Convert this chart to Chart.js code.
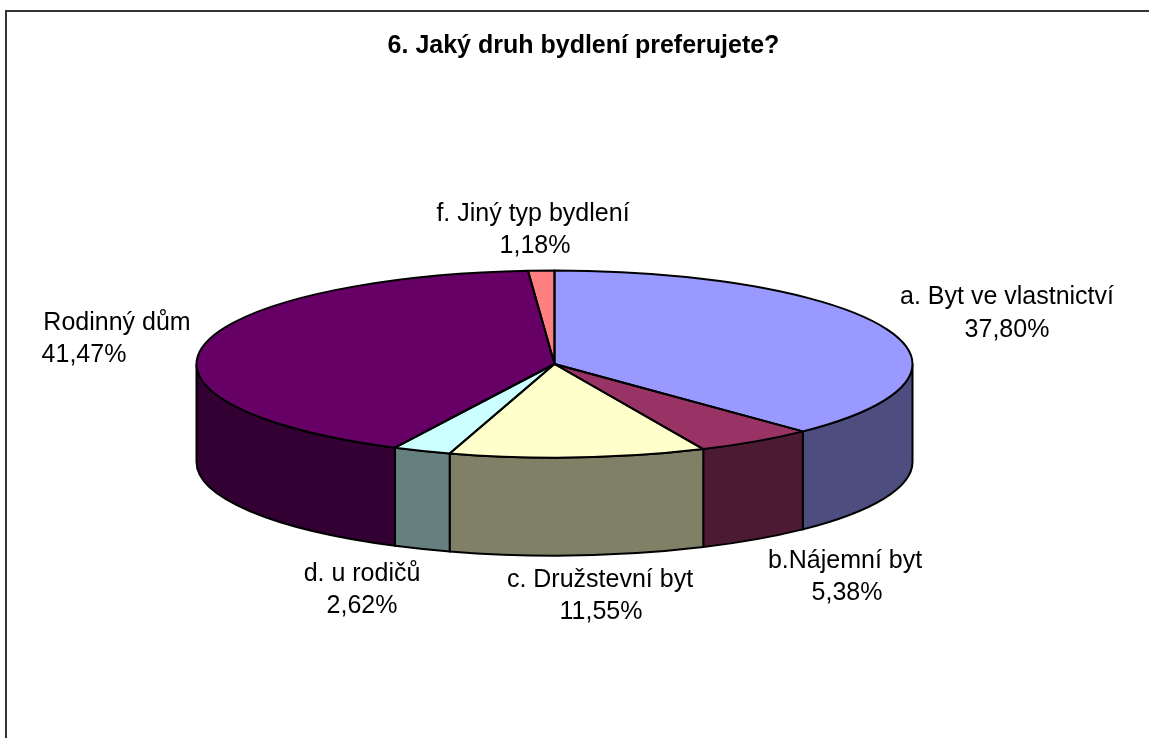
<!DOCTYPE html>
<html lang="cs">
<head>
<meta charset="utf-8">
<title>6. Jaký druh bydlení preferujete?</title>
<script src="https://cdn.jsdelivr.net/npm/chart.js@4/dist/chart.umd.min.js"></script>
<style>
  html, body { margin: 0; padding: 0; background: #fff; overflow: hidden; }
  #wrap { position: relative; width: 1149px; height: 738px; }
</style>
</head>
<body>
<div id="wrap"><canvas id="chart"></canvas></div>
<script>
  // Data
  const chartTitle = '6. Jaký druh bydlení preferujete?';
  const categories = ['a. Byt ve vlastnictví', 'b.Nájemní byt', 'c. Družstevní byt', 'd. u rodičů', 'Rodinný dům', 'f. Jiný typ bydlení'];
  const shares = [37.80, 5.38, 11.55, 2.62, 41.47, 1.18];

  // Slice colours, the side wall uses the same colour at half brightness
  const sliceColors = ['#9999ff', '#993366', '#ffffcc', '#ccffff', '#660066', '#ff8080'];

  // Ellipse the flat pie is squashed into
  const PIE = { cx: 554.5, cy: 364, rx: 358, ry: 93.5, depth: 98 };
  const FONT_SIZE = 25;
  const FONT_FAMILY = '"Liberation Sans", Arial, sans-serif';

  // Where each label line is centred: [x of name, x of share, y of name, y of share]
  const labelSpots = [
    [1007, 1007, 297, 330],
    [845, 847, 561, 593],
    [600, 601, 580, 612],
    [362, 362, 574, 606],
    [117, 84, 323, 355],
    [533, 535, 214, 246]
  ];

  function halfShade(hex) {
    const n = parseInt(hex.slice(1), 16);
    const ch = s => Math.round(((n >> s) & 255) / 2);
    return `rgb(${ch(16)}, ${ch(8)}, ${ch(0)})`;
  }

  function fmtShare(v) {
    return v.toFixed(2).replace('.', ',') + '%';
  }

  const pie3d = {
    id: 'pie3d',
    beforeDraw(chart) {
      // Frame of the chart, only top and left are in the picture
      const { ctx, width, height } = chart;
      ctx.save();
      ctx.strokeStyle = '#333';
      ctx.lineWidth = 2;
      ctx.beginPath();
      ctx.moveTo(width, 11);
      ctx.lineTo(6, 11);
      ctx.lineTo(6, height);
      ctx.stroke();
      ctx.restore();
    },
    beforeDatasetsDraw(chart) {
      const { ctx } = chart;
      const arcs = chart.getDatasetMeta(0).data;

      // Side walls, only the part facing the viewer
      ctx.save();
      ctx.strokeStyle = '#000';
      ctx.lineWidth = 2;
      arcs.forEach((arc, i) => {
        const a1 = Math.max(arc.startAngle, 0);
        const a2 = Math.min(arc.endAngle, Math.PI);
        if (a2 <= a1) return;
        ctx.beginPath();
        ctx.ellipse(PIE.cx, PIE.cy, PIE.rx, PIE.ry, 0, a1, a2);
        ctx.ellipse(PIE.cx, PIE.cy + PIE.depth, PIE.rx, PIE.ry, 0, a2, a1, true);
        ctx.closePath();
        ctx.fillStyle = halfShade(sliceColors[i]);
        ctx.fill();
        ctx.stroke();
      });
      ctx.restore();

      // Chart.js draws the round slices, squashed here to the ellipse
      ctx.save();
      ctx.translate(PIE.cx, PIE.cy);
      ctx.scale(1, PIE.ry / PIE.rx);
      ctx.translate(-arcs[0].x, -arcs[0].y);
    },
    afterDatasetsDraw(chart) {
      const { ctx } = chart;
      const arcs = chart.getDatasetMeta(0).data;
      ctx.restore();

      // Outlines are drawn unsquashed to keep an even line width
      ctx.save();
      ctx.strokeStyle = '#000';
      ctx.lineWidth = 2;
      ctx.lineJoin = 'round';
      arcs.forEach(arc => {
        ctx.beginPath();
        ctx.moveTo(PIE.cx, PIE.cy);
        ctx.ellipse(PIE.cx, PIE.cy, PIE.rx, PIE.ry, 0, arc.startAngle, arc.endAngle);
        ctx.closePath();
        ctx.stroke();
      });

      // Data labels
      ctx.fillStyle = '#000';
      ctx.font = `${FONT_SIZE}px ${FONT_FAMILY}`;
      ctx.textAlign = 'center';
      ctx.textBaseline = 'middle';
      categories.forEach((name, i) => {
        const spot = labelSpots[i];
        ctx.fillText(name, spot[0], spot[2]);
        ctx.fillText(fmtShare(shares[i]), spot[1], spot[3]);
      });
      ctx.restore();
    }
  };

  new Chart(document.getElementById('chart'), {
    type: 'pie',
    data: {
      labels: categories,
      datasets: [{
        data: shares,
        backgroundColor: sliceColors,
        borderWidth: 0,
        radius: PIE.rx,
        clip: false
      }]
    },
    options: {
      responsive: true,
      maintainAspectRatio: false,
      animation: false,
      events: [],
      layout: { padding: { left: 18 } },
      plugins: {
        legend: { display: false },
        tooltip: { enabled: false },
        title: {
          display: true,
          text: chartTitle,
          color: '#000',
          font: { family: FONT_FAMILY, size: FONT_SIZE, weight: 'bold' },
          padding: { top: 31, bottom: 0 }
        }
      }
    },
    plugins: [pie3d]
  });
</script>
</body>
</html>
